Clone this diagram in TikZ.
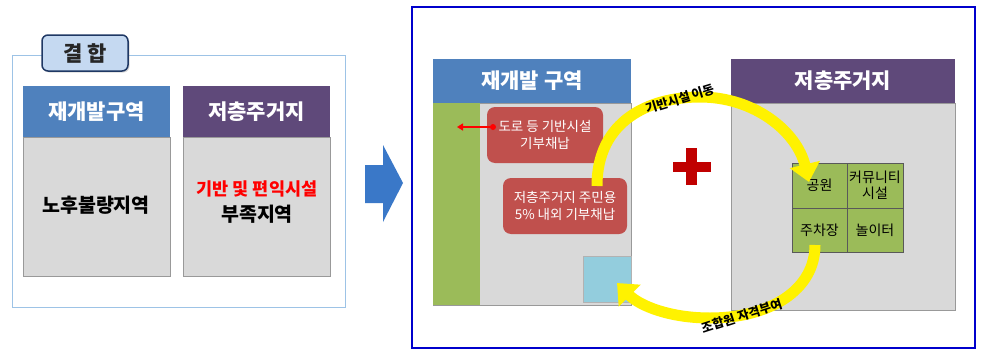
\documentclass[tikz,border=0pt]{standalone}
\usepackage{fontspec}
\setmainfont{Noto Sans CJK KR}
\usetikzlibrary{arrows.meta,shadows}
\definecolor{hdrblue}{HTML}{4F81BD}
\definecolor{hdrpurple}{HTML}{5F497A}
\definecolor{bodygray}{HTML}{D9D9D9}
\definecolor{framelight}{HTML}{9DC3E6}
\definecolor{taglight}{HTML}{C5D9F1}
\definecolor{tagdark}{HTML}{1F3864}
\definecolor{leafgreen}{HTML}{9BBB59}
\definecolor{brick}{HTML}{C0504D}
\definecolor{skyb}{HTML}{93CDDD}
\definecolor{plusred}{HTML}{C00000}
\definecolor{frameblue}{HTML}{0000CC}
\definecolor{arrowblue}{HTML}{3A78C8}
\begin{document}
\begin{tikzpicture}[x=1pt,y=-1pt,
  box/.style={anchor=north west,inner sep=0pt,outer sep=0pt},
  hdrtext/.style={text=white,font=\bfseries\fontsize{21}{23}\selectfont},
  bodybox/.style={box,fill=bodygray,draw=gray!80,line width=0.8pt},
  redbox/.style={box,fill=brick,rounded corners=8pt,text=white,align=center,font=\fontsize{13.5}{17}\selectfont},
  cell/.style={box,fill=leafgreen,draw=gray!70!black,line width=0.5pt,align=center,font=\fontsize{14}{16}\selectfont},
  yarrow/.style={draw=yellow,line width=11pt,-{Triangle[length=18pt,width=30pt]}},
  curvelabel/.style={font=\bfseries\fontsize{12.5}{13}\selectfont,text=black}
]
\useasboundingbox (0,0) rectangle (983,351);
\fill[white] (0,0) rectangle (983,351);

% ---------- left part ----------
\node[box,draw=framelight,line width=1pt,minimum width=333pt,minimum height=252pt] (lframe) at (12,55) {};
\node[draw=tagdark,fill=taglight,line width=1.5pt,rounded corners=6pt,minimum width=86pt,minimum height=36pt,
      drop shadow={opacity=0.3,shadow xshift=1.5pt,shadow yshift=-1.5pt},
      font=\bfseries\fontsize{21}{23}\selectfont,text=black!85] (tag) at (85,53) {결 합};

\node[bodybox,minimum width=147pt,minimum height=139pt] (abody) at (23,137) {};
\node[box,fill=hdrblue,minimum width=147pt,minimum height=51pt,hdrtext] (ahdr) at (23,86) {재개발구역};
\node[font=\bfseries\fontsize{19.5}{21}\selectfont] (atext) at (96,205) {노후불량지역};

\node[bodybox,minimum width=147pt,minimum height=139pt] (bbody) at (183,137) {};
\node[box,fill=hdrpurple,minimum width=147pt,minimum height=51pt,hdrtext] (bhdr) at (183,86) {저층주거지};
\node[font=\bfseries\fontsize{17.5}{19}\selectfont,text=red] (btext1) at (257,189) {기반 및 편익시설};
\node[font=\bfseries\fontsize{19.5}{21}\selectfont] (btext2) at (257,214) {부족지역};

% blue block arrow
\fill[arrowblue] (365,165) -- (383,165) -- (383,145) -- (403,183) -- (383,222) -- (383,203) -- (365,203) -- cycle;

% ---------- right part ----------
\node[box,draw=frameblue,line width=2pt,minimum width=563pt,minimum height=341pt] (rframe) at (412,7) {};

% redevelopment zone
\node[bodybox,minimum width=198pt,minimum height=202pt] (cbody) at (433,103) {};
\node[box,fill=leafgreen,minimum width=47pt,minimum height=202pt] (cgreen) at (433,103) {};
\node[box,fill=hdrblue,minimum width=198pt,minimum height=44pt,hdrtext] (chdr) at (433,59) {재개발 구역};
\node[redbox,minimum width=116pt,minimum height=56pt] (red1) at (487,107) {도로 등 기반시설\\기부채납};
\node[redbox,minimum width=124pt,minimum height=56pt] (red2) at (503,178) {저층주거지 주민용\\5\% 내외 기부채납};
\node[box,fill=skyb,draw=gray!60,line width=0.5pt,minimum width=48pt,minimum height=46pt] (sq) at (583,256) {};
\coordinate (rdot) at (493,127);
\coordinate (rend) at (457,127);
\fill[red] (rdot) circle (3pt);
\draw[red,line width=1.6pt,-{Triangle[length=6pt,width=7pt]}] (rdot) -- (rend);

% low-rise residential zone
\node[bodybox,minimum width=224pt,minimum height=207pt] (dbody) at (731,103) {};
\node[box,fill=hdrpurple,minimum width=224pt,minimum height=44pt,hdrtext] (dhdr) at (731,59) {저층주거지};
\node[cell,minimum width=55pt,minimum height=45pt] (park) at (792,163) {공원};
\node[cell,minimum width=56pt,minimum height=45pt] (comm) at (847,163) {커뮤니티\\시설};
\node[cell,minimum width=55pt,minimum height=44pt] (parking) at (792,208) {주차장};
\node[cell,minimum width=56pt,minimum height=44pt] (play) at (847,208) {놀이터};

% plus sign
\fill[plusred] (673,162) rectangle (711,172);
\fill[plusred] (686,148) rectangle (697,185);

% yellow curved arrows
\coordinate (ys) at (597,186);
\coordinate (ye) at (809,182);
\draw[yarrow] (ys) .. controls (597,120) and (650,97) .. (700,97) .. controls (755,97) and (797,132) .. (ye);
\coordinate (bs) at (815,245);
\coordinate (be) at (617,283);
\draw[yarrow] (bs) .. controls (815,290) and (770,318) .. (710,318) .. controls (670,318) and (640,306) .. (be);

\node[curvelabel,rotate=17] (lab1) at (680,99) {기반시설 이동};
\node[curvelabel,rotate=18] (lab2) at (742,316) {조합원 자격부여};
\end{tikzpicture}
\end{document}
